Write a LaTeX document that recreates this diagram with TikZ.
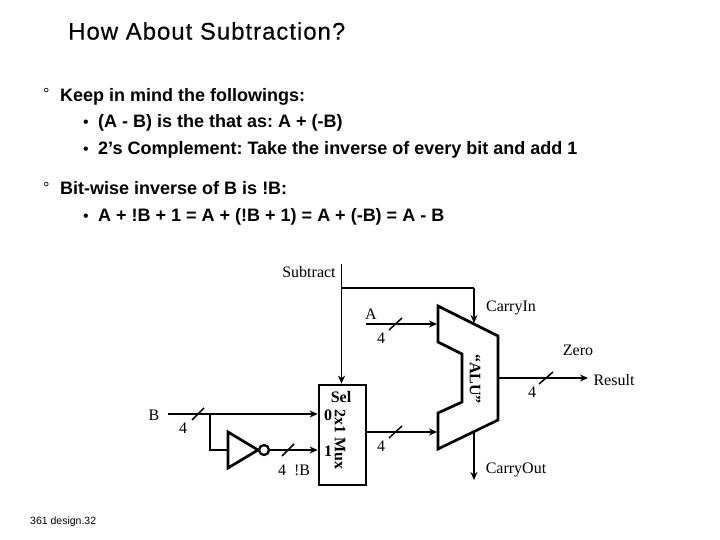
\documentclass[tikz,border=0pt]{standalone}
\usepackage{fontspec}
\setmainfont{Liberation Serif}
\newfontfamily\arialf{Liberation Sans}
\newfontfamily\arialt[LetterSpace=4,FakeBold=0.3]{Liberation Sans}
\usetikzlibrary{arrows.meta}
\frenchspacing
\tikzset{
  wire/.style={line width=1.6bp,draw=black},
  arrowwire/.style={wire,-{Stealth[length=8bp,width=7bp]}},
  thick box/.style={line width=2.7bp,draw=black,line join=miter},
  slashmark/.style={line width=1.5bp,draw=black},
  lbl/.style={inner sep=0pt,font=\fontsize{16bp}{18bp}\selectfont},
  boldlbl/.style={inner sep=0pt,font=\bfseries\fontsize{16bp}{18bp}\selectfont},
  title/.style={inner sep=0pt,anchor=west,font=\arialt\fontsize{24bp}{28bp}\selectfont},
  bodytxt/.style={inner sep=0pt,anchor=base west,font=\arialf\bfseries\fontsize{18bp}{22bp}\selectfont},
  bulletm/.style={inner sep=0pt,anchor=base west,font=\arialf\fontsize{16bp}{20bp}\selectfont}
}
\begin{document}
\begin{tikzpicture}[x=1bp,y=-1bp]
\useasboundingbox (0,0) rectangle (720,540);
\node[title] (ttl) at (68,31) {How About Subtraction?};
\node[bulletm] (b1) at (43,100) {°};
\node[bodytxt] (t1) at (60,102) {Keep in mind the followings:};
\node[bulletm] (b2) at (83,128) {•};
\node[bodytxt] (t2) at (98,128) {(A - B) is the that as: A + (-B)};
\node[bulletm] (b3) at (83,155) {•};
\node[bodytxt] (t3) at (98,155) {2’s Complement: Take the inverse of every bit and add 1};
\node[bulletm] (b4) at (43,194) {°};
\node[bodytxt] (t4) at (60,195) {Bit-wise inverse of B is !B:};
\node[bulletm] (b5) at (83,222) {•};
\node[bodytxt] (t5) at (98,222) {A + !B + 1 = A + (!B + 1) = A + (-B) = A - B};

% mux and ALU
\node[thick box,minimum width=47bp,minimum height=100bp,inner sep=0pt] (mux) at (342.5,435) {};
\draw[thick box] (438,306) -- (498,336) -- (498,420) -- (438,449) -- (438,413) -- (462,402) -- (462,354) -- (438,342) -- cycle;
\coordinate (aluA) at (437,324);
\coordinate (aluB) at (437,432);
\coordinate (aluC) at (474,323);
\coordinate (aluO) at (498,378);
\coordinate (aluD) at (474,431);

% inverter
\draw[thick box] (228,432) -- (258,450) -- (228,468) -- cycle;
\node[circle,draw=black,line width=2.3bp,minimum size=10bp,inner sep=0pt] (bub) at (264,450) {};

% labels
\node[lbl] (lsub) at (309,272) {Subtract};
\node[lbl] (la) at (371,314) {A};
\node[lbl] (lb) at (154,415) {B};
\node[lbl] (lci) at (511,308) {CarryIn};
\node[lbl] (lzero) at (578,350) {Zero};
\node[lbl] (lres) at (614,380) {Result};
\node[lbl] (lco) at (516,470) {CarryOut};
\node[lbl] (l4a) at (381,338) {4};
\node[lbl] (l4b) at (183,428) {4};
\node[lbl] (l4c) at (381,446) {4};
\node[lbl] (l4d) at (532,392) {4};
\node[lbl] (l4e) at (282,470) {4};
\node[lbl] (lnb) at (302,470) {!B};
\node[boldlbl] (lsel) at (341,397) {Sel};
\node[boldlbl] (l0) at (328,415) {0};
\node[boldlbl] (l1) at (328,451) {1};
\node[boldlbl,rotate=-90] (lmux) at (340,439) {2x1 Mux};
\node[boldlbl,rotate=-90] (lalu) at (475,379) {“ALU”};

% wires
\coordinate (subtop) at (341.5,264);
\coordinate (subbr) at (341.5,288);
\coordinate (cinr) at (474,288);
\coordinate (bstart) at (168,414);
\coordinate (bbr) at (210,414);
\coordinate (bdown) at (210,450);
\coordinate (astart) at (366,324);
\coordinate (outend) at (588,378);
\coordinate (coend) at (474,480);
\coordinate (mux0) at (mux.west |- bstart);
\coordinate (mux1) at (mux.west |- bdown);
\draw[arrowwire] (subtop) -- (mux.north -| subtop);
\draw[wire] (subbr) -- (cinr);
\draw[arrowwire] (cinr) -- (aluC);
\draw[arrowwire] (bstart) -- (mux0);
\draw[wire] (bbr) -- (bdown) -- (228,450);
\draw[arrowwire] (bub.east) -- (mux1);
\draw[arrowwire] (astart) -- (aluA);
\draw[arrowwire] (mux.east |- aluB) -- (aluB);
\draw[arrowwire] (aluO) -- (outend);
\draw[arrowwire] (aluD) -- (coend);

% bus slashes
\draw[slashmark] (192,420) -- (204,408);
\draw[slashmark] (282,456) -- (294,444);
\draw[slashmark] (389,330) -- (402,318);
\draw[slashmark] (389,438) -- (402,426);
\draw[slashmark] (539,384) -- (553,372);

% footer
\node[inner sep=0pt,anchor=west,font=\arialf\fontsize{10.5bp}{12bp}\selectfont] (foot) at (30,522) {361 design.32};
\end{tikzpicture}
\end{document}
